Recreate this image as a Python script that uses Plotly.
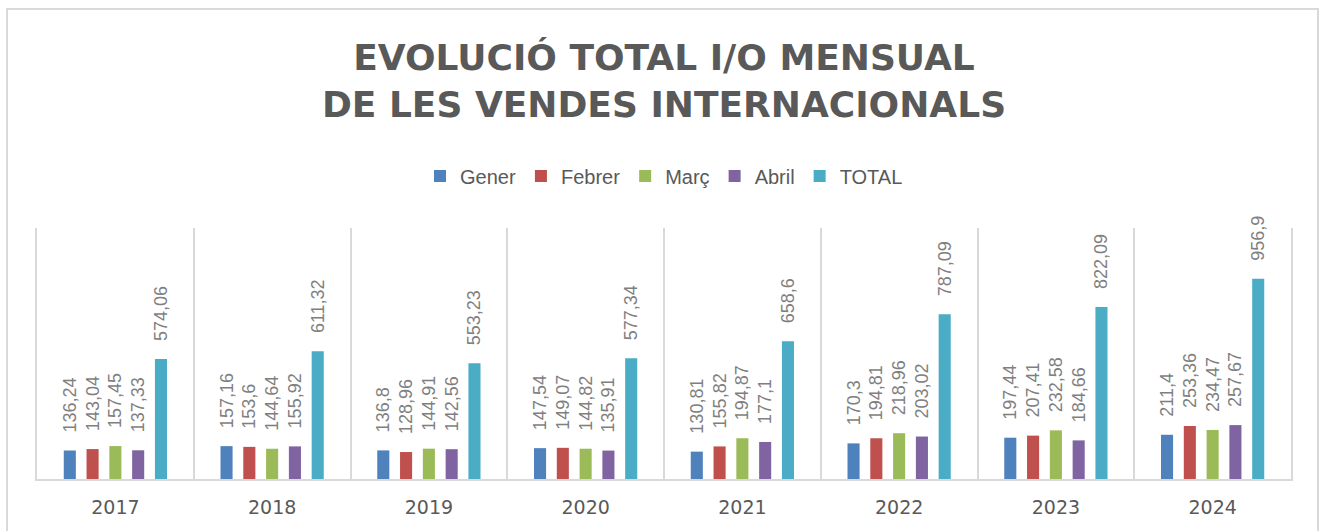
import plotly.graph_objects as go

years = ["2017", "2018", "2019", "2020", "2021", "2022", "2023", "2024"]
gener = [136.24, 157.16, 136.8, 147.54, 130.81, 170.3, 197.44, 211.4]
febrer = [143.04, 153.6, 128.96, 149.07, 155.82, 194.81, 207.41, 253.36]
marc = [157.45, 144.64, 144.91, 144.82, 194.87, 218.96, 232.58, 234.47]
abril = [137.33, 155.92, 142.56, 135.91, 177.1, 203.02, 184.66, 257.67]
total = [574.06, 611.32, 553.23, 577.34, 658.6, 787.09, 822.09, 956.9]

series = [
    ("Gener", gener, "#4F81BD"),
    ("Febrer", febrer, "#C0504D"),
    ("Març", marc, "#9BBB59"),
    ("Abril", abril, "#8064A2"),
    ("TOTAL", total, "#4BACC6"),
]

def fmt(v):
    return "\u00a0\u00a0\u00a0" + str(v).replace(".", ",")

fig = go.Figure()
for name, vals, col in series:
    fig.add_trace(go.Bar(
        x=years, y=vals, name=name,
        marker=dict(color=col, line=dict(width=0)),
        text=[fmt(v) for v in vals],
        textposition="outside", textangle=-90,
        textfont=dict(family="Liberation Sans", size=18, color="#7f7f7f"),
        cliponaxis=False, constraintext="none",
        hoverinfo="skip",
    ))

L, R, T, B = 37, 29, 228, 52
W, H = 1320, 531
pw, ph = W - L - R, H - T - B

fig.update_layout(
    width=W, height=H,
    margin=dict(l=L, r=R, t=T, b=B, pad=0),
    paper_bgcolor="white", plot_bgcolor="white",
    barmode="group", bargap=0.273, bargroupgap=0.47,
    title=dict(
        text="EVOLUCIÓ TOTAL I/O MENSUAL<br>DE LES VENDES INTERNACIONALS",
        x=0.5, xanchor="center", xref="paper",
        y=1 - 70 / H, yanchor="top", yref="container",
        font=dict(family="DejaVu Sans", size=36, color="#595959", weight="bold"),
    ),
    legend=dict(
        orientation="h", x=0.5, xanchor="center", y=(H - B - 176) / ph, yanchor="middle",
        font=dict(family="Liberation Sans", size=20, color="#595959"),
        itemwidth=30, traceorder="normal",
    ),
    xaxis=dict(
        type="category", tickson="boundaries", showgrid=True,
        gridcolor="#d9d9d9", gridwidth=2,
        showline=True, linecolor="#d9d9d9", linewidth=2,
        ticks="", tickfont=dict(family="DejaVu Sans", size=19, color="#595959"),
        ticklabelstandoff=10,
    ),
    yaxis=dict(
        range=[0, 1200], showticklabels=False, showgrid=False, zeroline=False,
        showline=True, linecolor="#d9d9d9", linewidth=2, mirror=True, ticks="",
    ),
    shapes=[dict(
        type="rect", xref="paper", yref="paper",
        x0=(7 - L) / pw, x1=(1318 - L) / pw,
        y0=-(H + 10 - (H - B)) / ph, y1=(H - B - 9) / ph,
        line=dict(color="#d9d9d9", width=2), fillcolor="rgba(0,0,0,0)", layer="below",
    )],
)

fig.write_html("out.html", config={"displayModeBar": False},
               post_script="document.body.style.margin='0';")
